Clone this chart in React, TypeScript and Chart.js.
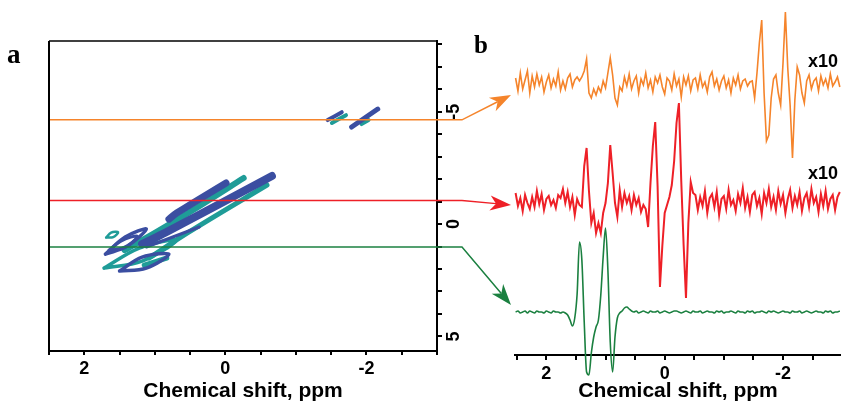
import React, { useEffect, useRef } from "react";
import { Chart, registerables } from "chart.js";

Chart.register(...registerables);

const W = 841;
const H = 401;

// ---------------- data ----------------
// panel a: 2D map (direct shift on x, indirect shift on y)
const xRangeA = [-3, 2.5];
const yRangeA = [-8.15, 5.65];
const xTickLabels = [2, 0, -2];
const yTickLabels = [-5, 0, 5];
const sliceShifts = [-4.64, -1.05, 1.02];

// contour ridges / loops, [direct ppm, indirect ppm]
const blueContours: number[][][] = [
  [[0.8, -0.22], [0.69, -0.49], [-0.01, -1.83]],
  [[-0.66, -2.14], [0.84, 0.36], [1.18, 0.89]],
  [[1.7, 1.34], [1.42, 0.58], [1.12, 0.22], [1.39, 0.98], [1.7, 1.34]],
  [[1.5, 2.09], [1.18, 1.47], [0.8, 1.34], [1.12, 1.96], [1.5, 2.09]],
  [[1.65, 1.16], [1.48, 0.76], [1.25, 0.53], [1.41, 1.02], [1.65, 1.16]],
  [[1.12, 1.02], [0.37, 0.13]],
  [[-1.45, -4.63], [-1.65, -4.98]],
  [[-1.79, -4.32], [-2.16, -5.12]],
];
const tealContours: number[][][] = [
  [[-0.26, -2.05], [0.37, -0.8], [0.98, 0.36], [1.43, 1.16]],
  [[-0.59, -1.74], [0.52, 0.36], [1.08, 1.51]],
  [[1.72, 1.96], [1.22, 1.07], [0.69, 0.71], [1.18, 1.65], [1.72, 1.96]],
  [[1.69, 0.6], [1.62, 0.38], [1.52, 0.36], [1.59, 0.58], [1.69, 0.6]],
  [[1.15, 1.83], [0.83, 1.51]],
  [[-1.51, -4.5], [-1.71, -4.85]],
  [[-1.93, -4.45], [-2.03, -4.63]],
];

// panel b: 1D slices
const xRangeB = [-2.98, 2.53];
const shiftStart = 2.52;
const shiftStep = 0.04;
const traceOffsets = [272, 154, 43];
const scaleLabels = ["x10", "x10", ""];

const orangeSignal = [
  5, -8, 10, -6, 3, 12, -10, 7, -4, 9,
  -2, 6, -9, 1, 8, -5, 4, -3, 11, -7,
  2, -6, 5, 9, -4, 3, 6, 2,
  6, 12, 24, -10, -15, -6, -12, -4, -9, 2, -5, 10, 25, 8, -15, -22, -4,
  -8, 6, -3, 9, -6, 2, 7, -10, 4, -2,
  10, -5, 3, -9, 6, 0, 8, -4, -11, 5,
  2, -7, 9, -3, 4, -14, 6, -2, 7, -8,
  3, 5, -6, 8, -4, 1, -9, 6, 11, -3,
  4, -7, 2, 7, -5, 3, -10, 5, -2, 8,
  -6, 2, 4, -3, 1,
  2, -15, 10, 40, 63, -10, -58, -52, -15, 4,
  8, -10, -22, 20, 71, 15, -22, -75, -17, 16,
  8, -10, -20, 2,
  8, -6, 2, 5, -8, 7, -2, 4, -5, 9, -3, 1, 6, -4,
];
const redSignal = [
  8, -5, 3, -10, 6, -2, -8, 4, -6, 10,
  -3, 7, -9, 2, 5, -4, 1, -7, 6, 3,
  12, -2, 9, -6, 4, -14, 2,
  -4, -6, 35, 53, 10, -22, -12, -32, -22, -32, -12, -2, 18, 56, 28, -2, -16, 11,
  -6, 8, -2, 5, -9, 6, -4, 3, -11,
  -4, -8, -26, 18, 55, 79, 15, -86, -45, -12,
  -4, 4, 16, 40, 78, 98, 20, -44, -97, -22, 19, 8,
  6, -9, 4, -5, 10, -12, 3, 7, -6, 9,
  -14, 2, 5, -8, 11, -4, 1, -10, 7, -2,
  13, -7, 4, -11, 6, 9, -5, 3, -13, 8,
  -2, 12, -6, 4, -9, 10, -3, 6, -12, 2,
  11, -7, 5, -4, 9, -10, 3, 8, -6, 12,
  -2, 4, -11, 7, -5, 10, -8, 2, 6, -9,
  4, 9,
];
const greenSignal = [
  0, 1, -1, 0, 1, -1, 1, 0, -1, 1, 0, 0, -1, 1, 0, -1, 1, 0, 0, -1,
  0, -1, -3, -8, -14, -6, 18, 70, 52, -10,
  -60, -63, -41, -25, -15, -8, 17, 55, 84, 42,
  -30, -60, -25, -6, -1, 1, 4, 5, 3,
  1, 0, 1, -1, 0, 1, 0, -1, 1, 0,
  0, 1, -1, 0, 1, 0, -1, 0, 1, 1,
  0, -1, 0, 1, 0, -1, 1, 0, 0, 1,
  -1, 0, 1, 0, 0, -1, 1, 0, 1, -1,
  0, 0, 1, 0, -1, 1, 0, 0, -1, 1,
  0, 1, -1, 0, 0, 1, 0, -1, 1, 0,
  1, 0, -1, 0, 1, 0, 0, -1, 1, 0,
  0, 1, -1, 0, 1, 0, -1, 0, 1, 0,
  0, -1, 1, 0, 1, -1, 0, 0, 1,
];
const traces = [orangeSignal, redSignal, greenSignal];

// ---------------- style ----------------
const SLICE_COLORS = ["#f5842b", "#ee2027", "#1b8040"];
const BLUE = "#3b4ea1";
const TEAL = "#1f9c98";
const blueWidths = [7, 8, 3.5, 3.5, 3, 3, 4, 5];
const tealWidths = [6, 5, 3.5, 2.5, 5, 4, 4];
const SANS = '"Liberation Sans", Arial, sans-serif';
const SERIF = '"Liberation Serif", "Times New Roman", serif';

const pts = (c: number[][]) => c.map(([x, y]) => ({ x, y }));

export default function App() {
  const aRef = useRef<HTMLCanvasElement>(null);
  const bRef = useRef<HTMLCanvasElement>(null);

  useEffect(() => {
    const tickFont = { family: SANS, size: 18, weight: "bold" as const };
    const titleFont = { family: SANS, size: 21, weight: "bold" as const, lineHeight: 0.9 };

    const contourBase = {
      showLine: true,
      pointRadius: 0,
      fill: false,
      borderCapStyle: "round" as const,
      borderJoinStyle: "round" as const,
      tension: 0.35,
    };

    const datasetsA: any[] = [
      ...sliceShifts.map((v, k) => ({
        data: [{ x: xRangeA[1], y: v }, { x: xRangeA[0], y: v }],
        showLine: true,
        pointRadius: 0,
        borderColor: SLICE_COLORS[k],
        borderWidth: 1.5,
        order: 0,
      })),
      ...blueContours.map((c, k) => ({
        ...contourBase,
        data: pts(c),
        borderColor: BLUE,
        borderWidth: blueWidths[k],
        order: 1,
      })),
      ...tealContours.map((c, k) => ({
        ...contourBase,
        data: pts(c),
        borderColor: TEAL,
        borderWidth: tealWidths[k],
        order: 2,
      })),
    ];

    const framePlugin = {
      id: "frameA",
      afterDraw(chart: any) {
        const { ctx, chartArea: a } = chart;
        ctx.save();
        ctx.strokeStyle = "#000";
        ctx.lineWidth = 2;
        ctx.beginPath();
        ctx.moveTo(a.left, a.bottom + 1);
        ctx.lineTo(a.left, a.top);
        ctx.stroke();
        ctx.lineWidth = 1.5;
        ctx.beginPath();
        ctx.moveTo(a.left, a.top);
        ctx.lineTo(a.right, a.top);
        ctx.stroke();
        ctx.restore();
      },
    };

    const chartA = new Chart(aRef.current!, {
      type: "scatter",
      data: { datasets: datasetsA },
      options: {
        animation: false,
        responsive: false,
        events: [],
        layout: { padding: { left: 49, top: 41, right: 374, bottom: 0 } },
        plugins: { legend: { display: false }, tooltip: { enabled: false } },
        scales: {
          x: {
            type: "linear",
            position: "bottom",
            reverse: true,
            min: xRangeA[0],
            max: xRangeA[1],
            afterFit: (s: any) => {
              s.height = 50;
            },
            border: { display: true, color: "#000", width: 2 },
            grid: { drawOnChartArea: false, drawTicks: true, tickLength: 4, color: "#000", lineWidth: 2 },
            ticks: {
              stepSize: 0.5,
              autoSkip: false,
              maxRotation: 0,
              padding: 3,
              color: "#000",
              font: tickFont,
              callback: (v: any) => (xTickLabels.includes(Number(v)) ? String(Number(v)) : ""),
            },
            title: { display: true, text: "Chemical shift, ppm", color: "#000", font: titleFont, padding: 0 },
          },
          y: {
            type: "linear",
            position: "right",
            reverse: true,
            min: yRangeA[0],
            max: yRangeA[1],
            afterFit: (s: any) => {
              s.width = 30;
            },
            border: { display: true, color: "#000", width: 2 },
            grid: { drawOnChartArea: false, drawTicks: true, tickLength: 5, color: "#000", lineWidth: 2 },
            ticks: {
              stepSize: 1,
              includeBounds: false,
              autoSkip: false,
              minRotation: 90,
              maxRotation: 90,
              crossAlign: "center",
              padding: 4,
              color: "#000",
              font: tickFont,
              callback: (v: any) => (yTickLabels.includes(Number(v)) ? String(Number(v)) : ""),
            },
          },
        },
      } as any,
      plugins: [framePlugin],
    });

    const datasetsB: any[] = traces.map((sig, k) => ({
      data: sig.map((r, i) => ({
        x: +(shiftStart - i * shiftStep).toFixed(2),
        y: traceOffsets[k] + r,
      })),
      showLine: true,
      pointRadius: 0,
      borderColor: SLICE_COLORS[k],
      borderWidth: k === 1 ? 2 : 1.6,
      clip: false,
      ...(k === 2 ? { cubicInterpolationMode: "monotone" } : {}),
    }));

    const tipNudge = [12, 4, -7];

    const overlayPlugin = {
      id: "overlayB",
      afterDraw(chart: any) {
        const ctx = chart.ctx;
        const yA = chartA.scales.y;
        const aArea = chartA.chartArea;
        const yB = chart.scales.y;
        const bArea = chart.chartArea;
        const bendX = aArea.right + 25;
        const tipX = bArea.left - 4;
        ctx.save();
        sliceShifts.forEach((v, k) => {
          const y0 = yA.getPixelForValue(v);
          const tipY = yB.getPixelForValue(traceOffsets[k]) + tipNudge[k];
          const dx = tipX - bendX;
          const dy = tipY - y0;
          const len = Math.hypot(dx, dy);
          const ux = dx / len;
          const uy = dy / len;
          const L = 21;
          const hw = 7.5;
          const notch = 6;
          const bx = tipX - ux * L;
          const by = tipY - uy * L;
          const nx = tipX - ux * (L - notch);
          const ny = tipY - uy * (L - notch);
          ctx.strokeStyle = SLICE_COLORS[k];
          ctx.fillStyle = SLICE_COLORS[k];
          ctx.lineWidth = 1.5;
          ctx.beginPath();
          ctx.moveTo(aArea.right, y0);
          ctx.lineTo(bendX, y0);
          ctx.lineTo(nx, ny);
          ctx.stroke();
          ctx.beginPath();
          ctx.moveTo(tipX, tipY);
          ctx.lineTo(bx - uy * hw, by + ux * hw);
          ctx.lineTo(nx, ny);
          ctx.lineTo(bx + uy * hw, by - ux * hw);
          ctx.closePath();
          ctx.fill();
        });
        // scale factor labels
        ctx.fillStyle = "#000";
        ctx.font = `bold 18px ${SANS}`;
        ctx.textAlign = "left";
        ctx.textBaseline = "alphabetic";
        const labelBase = [67, 179];
        scaleLabels.forEach((t, k) => {
          if (t) ctx.fillText(t, 808, labelBase[k]);
        });
        // panel letters
        ctx.font = `bold 27px ${SERIF}`;
        ctx.fillText("a", 7, 63);
        ctx.font = `bold 25px ${SERIF}`;
        ctx.fillText("b", 474, 53);
        ctx.restore();
      },
    };

    const chartB = new Chart(bRef.current!, {
      type: "scatter",
      data: { datasets: datasetsB },
      options: {
        animation: false,
        responsive: false,
        events: [],
        layout: { padding: { left: 515, top: 5, right: 0, bottom: 0 } },
        plugins: { legend: { display: false }, tooltip: { enabled: false } },
        scales: {
          x: {
            type: "linear",
            position: "bottom",
            reverse: true,
            min: xRangeB[0],
            max: xRangeB[1],
            afterFit: (s: any) => {
              s.height = 46;
            },
            border: { display: true, color: "#000", width: 2 },
            grid: { drawOnChartArea: false, drawTicks: true, tickLength: 5, color: "#000", lineWidth: 2 },
            ticks: {
              stepSize: 0.5,
              includeBounds: false,
              autoSkip: false,
              maxRotation: 0,
              padding: 3,
              color: "#000",
              font: tickFont,
              callback: (v: any) => (xTickLabels.includes(Number(v)) ? String(Number(v)) : ""),
            },
            title: { display: true, text: "Chemical shift, ppm", color: "#000", font: titleFont, padding: 0 },
          },
          y: { type: "linear", display: false, min: 0, max: 350 },
        },
      } as any,
      plugins: [overlayPlugin],
    });

    return () => {
      chartB.destroy();
      chartA.destroy();
    };
  }, []);

  const cs: React.CSSProperties = { position: "absolute", left: 0, top: 0, width: W, height: H };
  return (
    <div style={{ position: "absolute", left: 0, top: 0, width: W, height: H, background: "#fff" }}>
      <canvas ref={aRef} width={W} height={H} style={cs} />
      <canvas ref={bRef} width={W} height={H} style={cs} />
    </div>
  );
}
